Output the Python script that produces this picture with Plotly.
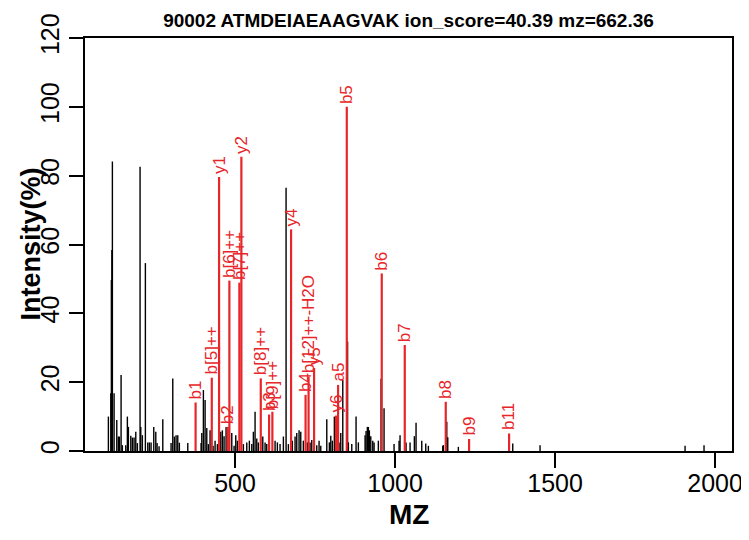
import plotly.graph_objects as go

# ---------------- data ----------------
title_text = "90002 ATMDEIAEAAGVAK ion_score=40.39 mz=662.36"

black_mz = [104.1, 111.6, 113.4, 115.0, 116.6, 121.9, 130.3, 135.3, 138.4, 143.8,
            147.8, 158.4, 163.4, 166.6, 174.1, 179.1, 184.4, 189.7, 194.7, 203.1,
            205.3, 210.3, 219.7, 227.2, 232.2, 237.5, 245.9, 252.2, 256.3, 262.5,
            274.1, 300.0, 305.3, 310.3, 315.6, 320.9, 325.9, 352.2, 393.8, 396.0,
            401.0, 406.3, 411.6, 416.6, 421.9, 431.3, 437.5, 444.7, 455.3, 460.3,
            465.6, 471.9, 489.7, 496.9, 502.2, 507.2, 526.0, 536.6, 544.7, 552.2,
            557.2, 562.5, 567.8, 572.8, 586.6, 593.8, 599.0, 625.0, 632.2, 640.6,
            651.0, 659.4, 666.6, 679.1, 687.5, 692.8, 700.0, 705.3, 713.4, 725.9,
            734.4, 739.7, 755.3, 762.5, 767.8, 786.6, 794.7, 799.1, 804.1, 810.3,
            825.0, 830.3, 836.6, 851.6, 854.1, 864.7, 878.1, 885.3, 906.3, 909.4,
            913.4, 916.6, 919.7, 924.1, 930.3, 934.4, 947.8, 956.3, 965.6, 996.9,
            1012.5, 1015.6, 1034.4, 1046.9, 1060.3, 1065.6, 1083.4, 1095.9, 1104.1, 1149.1,
            1151.0, 1161.6, 1164.7, 1197.8, 1367.8, 1453.1, 1906.3, 1965.6]
black_int = [10.0, 16.8, 49.7, 58.4, 84.1, 16.8, 9.0, 4.2, 4.2, 22.1,
             1.7, 1.7, 10.0, 7.0, 4.4, 3.9, 3.9, 5.6, 2.3, 82.6,
             7.0, 4.6, 54.6, 2.5, 2.5, 2.5, 7.0, 5.6, 2.3, 1.4,
             9.2, 2.3, 21.1, 4.2, 4.6, 4.6, 2.4, 2.3, 2.3, 5.2,
             17.7, 14.8, 6.7, 2.0, 6.0, 1.5, 3.0, 2.0, 5.6, 6.0,
             4.3, 7.0, 5.2, 1.5, 4.6, 3.0, 2.0, 2.5, 3.0, 2.0,
             5.6, 11.4, 3.6, 2.5, 4.2, 2.5, 2.0, 3.0, 2.5, 2.0,
             4.2, 76.5, 2.0, 3.0, 4.2, 5.2, 6.0, 5.6, 3.0, 2.5,
             2.5, 3.2, 1.7, 3.0, 1.5, 9.2, 2.5, 4.4, 3.0, 10.0,
             2.5, 5.2, 20.6, 31.8, 2.5, 2.0, 10.0, 2.5, 4.6, 5.8,
             7.0, 7.0, 6.0, 4.3, 3.0, 2.5, 3.0, 21.0, 12.4, 2.0,
             3.0, 4.6, 2.5, 2.5, 4.3, 8.2, 3.0, 2.2, 1.5, 1.5,
             1.7, 8.5, 4.0, 1.2, 2.2, 1.7, 1.5, 1.7]

ion_labels = ["b1", "b[5]++", "y1", "b2", "b[6]++", "b[7]++", "y2", "b[8]++", "b3", "b[9]++",
              "y4", "b4", "b[12]++-H2O", "y5", "y6", "a5", "b5", "b6", "b7", "b8", "b9", "b11"]
ion_mz = [376.6, 427.2, 450.0, 477.2, 482.2, 513.4, 519.7, 580.3, 606.3, 616.6,
          675.0, 720.3, 729.7, 746.9, 815.6, 821.9, 849.1, 958.4, 1030.3, 1158.4, 1231.3, 1356.3]
ion_int = [14.1, 21.3, 79.6, 7.0, 49.5, 48.9, 85.5, 21.1, 10.6, 11.4,
           64.4, 16.3, 21.6, 24.1, 10.3, 19.2, 100.0, 51.6, 30.8, 14.3, 3.5, 5.1]

x_ticks = [500, 1000, 1500, 2000]
y_ticks = [0, 20, 40, 60, 80, 100, 120]
x_range = [31, 2053]
y_range = [0, 120]

# ---------------- styling ----------------
FONT = "Liberation Sans, Arial, Helvetica, sans-serif"
RED = "rgb(232,38,42)"
W, H = 741, 532  # page body adds an 8px margin


def stems(xs, ys):
    X, Y = [], []
    for x, y in zip(xs, ys):
        X += [x, x, None]
        Y += [0, y, None]
    return X, Y


bx, by = stems(black_mz, black_int)
rx, ry = stems(ion_mz, ion_int)

fig = go.Figure()
fig.add_trace(go.Scatter(x=bx, y=by, mode="lines",
                         line=dict(color="black", width=1.4),
                         hoverinfo="skip", showlegend=False))
fig.add_trace(go.Scatter(x=rx, y=ry, mode="lines",
                         line=dict(color=RED, width=2.2),
                         hoverinfo="skip", showlegend=False))

annotations = []
for lab, mz, it in zip(ion_labels, ion_mz, ion_int):
    annotations.append(dict(x=mz, y=it, xref="x", yref="y", text=lab,
                            showarrow=False, textangle=-90,
                            xanchor="center", yanchor="bottom", yshift=1,
                            font=dict(family=FONT, size=17, color=RED)))

annotations.append(dict(x=0.5, y=0, xref="paper", yref="paper", text="MZ",
                        showarrow=False, xanchor="center", yanchor="middle",
                        yshift=-63,
                        font=dict(family=FONT, size=28, color="black", weight="bold")))
annotations.append(dict(x=0, y=0.5, xref="paper", yref="paper", text="Intensity(%)",
                        showarrow=False, xanchor="center", yanchor="middle",
                        xshift=-55, textangle=-90,
                        font=dict(family=FONT, size=27, color="black", weight="bold")))

fig.update_layout(
    width=W, height=H,
    margin=dict(l=77, r=17, t=30, b=89, pad=0, autoexpand=False),
    paper_bgcolor="white", plot_bgcolor="white",
    title=dict(text=title_text, x=0.5, xref="paper", xanchor="center",
               y=1 - 12 / H, yref="container", yanchor="middle",
               font=dict(family=FONT, size=19, color="black", weight="bold")),
    annotations=annotations,
    font=dict(family=FONT, color="black"),
)
fig.update_xaxes(range=x_range, tickmode="array", tickvals=x_ticks,
                 ticktext=[str(v) for v in x_ticks], automargin=False,
                 showgrid=False, zeroline=False,
                 showline=True, mirror=True, linecolor="black", linewidth=1.5,
                 ticks="outside", ticklen=15, tickwidth=1.5, tickcolor="black",
                 ticklabelstandoff=-6,
                 tickfont=dict(family=FONT, size=25, color="black"))
fig.update_yaxes(range=y_range, tickmode="array", tickvals=y_ticks,
                 ticktext=[str(v) for v in y_ticks], automargin=False,
                 showgrid=False, zeroline=False,
                 showline=True, mirror=True, linecolor="black", linewidth=1.5,
                 ticks="outside", ticklen=14, tickwidth=1.5, tickcolor="black",
                 tickangle=-90,
                 tickfont=dict(family=FONT, size=25, color="black"))

fig.write_html("out.html")
